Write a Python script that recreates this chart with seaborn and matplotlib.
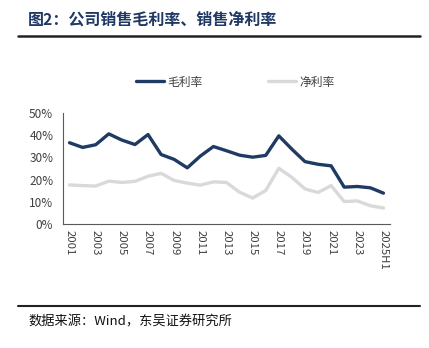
import matplotlib
matplotlib.use("Agg")
import matplotlib.pyplot as plt
import seaborn as sns
import pandas as pd
from matplotlib.ticker import FixedLocator, PercentFormatter
from matplotlib.lines import Line2D

years = [str(y) for y in range(2001, 2025)] + ["2025H1"]
gross_margin = [36.6, 34.5, 35.7, 40.6, 37.8, 35.8, 40.3, 31.3, 29.1, 25.3,
                30.6, 34.9, 33.0, 31.0, 30.1, 30.9, 39.7, 33.7, 28.1, 26.9,
                26.2, 16.6, 16.9, 16.3, 13.9]
net_margin = [17.6, 17.3, 17.1, 19.3, 18.7, 19.2, 21.5, 22.8, 19.6, 18.4,
              17.5, 19.0, 18.7, 14.3, 11.7, 15.1, 25.1, 21.0, 15.8, 14.2,
              17.3, 10.1, 10.4, 8.2, 7.2]
series_names = ["毛利率", "净利率"]
colors = ["#1f3b63", "#d9d9d9"]

sns.set_style("white")
plt.rcParams['font.family'] = ['Noto Sans CJK SC', 'DejaVu Sans']

df = pd.DataFrame({
    "idx": list(range(len(years))) * 2,
    "value": [v / 100 for v in gross_margin] + [v / 100 for v in net_margin],
    "series": [series_names[0]] * len(years) + [series_names[1]] * len(years),
})

fig = plt.figure(figsize=(4.29, 3.48), dpi=100)
ax = fig.add_axes([63 / 429, 1 - 224 / 348, (390 - 63) / 429, (224 - 113) / 348])

sns.lineplot(data=df, x="idx", y="value", hue="series", hue_order=series_names[::-1],
             palette={series_names[0]: colors[0], series_names[1]: colors[1]},
             linewidth=2.4, ax=ax, legend=False, sort=False)

ax.set_xlim(-0.5, len(years) - 0.5)
ax.set_ylim(0, 0.5)
ax.yaxis.set_major_locator(FixedLocator([0, 0.1, 0.2, 0.3, 0.4, 0.5]))
ax.yaxis.set_major_formatter(PercentFormatter(1.0, decimals=0))
ax.set_xticks(list(range(0, len(years), 2)))
ax.set_xticklabels([years[i] for i in range(0, len(years), 2)], rotation=270)
ax.set_xticks([i + 0.5 for i in range(-1, len(years))], minor=True)
ax.tick_params(axis='x', which='major', length=0, pad=4, labelsize=8.2, colors='#404040')
ax.tick_params(axis='x', which='minor', length=4, width=0.8, color='#595959', direction='out')
ax.tick_params(axis='y', which='major', length=4, width=0.8, color='#595959', direction='out',
               labelsize=8.5, labelcolor='#404040', pad=3)
ax.set_xlabel("")
ax.set_ylabel("")
for s in ["top", "right"]:
    ax.spines[s].set_visible(False)
for s in ["left", "bottom"]:
    ax.spines[s].set_color("#595959")
    ax.spines[s].set_linewidth(0.8)
ax.grid(False)

handles = [Line2D([0], [0], color=colors[0], lw=2.4),
           Line2D([0], [0], color=colors[1], lw=2.4)]
fig.legend(handles, series_names, loc="center", bbox_to_anchor=(235.5 / 429, 1 - 82 / 348),
           ncol=2, frameon=False, fontsize=8.5, handlelength=2.4, handletextpad=0.3,
           columnspacing=5.5, labelcolor='#404040')

fig.text(28 / 429, 1 - 20 / 348, "图2：公司销售毛利率、销售净利率", fontsize=11.5,
         fontweight='bold', color="#1f3864", va='center', ha='left')
fig.add_artist(Line2D([18 / 429, 420 / 429], [1 - 36 / 348, 1 - 36 / 348],
                      color="#222222", lw=1.8, transform=fig.transFigure))
fig.add_artist(Line2D([18 / 429, 420 / 429], [1 - 306 / 348, 1 - 306 / 348],
                      color="#222222", lw=1.5, transform=fig.transFigure))
fig.text(28 / 429, 1 - 322 / 348, "数据来源：Wind，东吴证券研究所", fontsize=9.5,
         color="#111111", va='center', ha='left')

fig.savefig("out.png", dpi=100)
